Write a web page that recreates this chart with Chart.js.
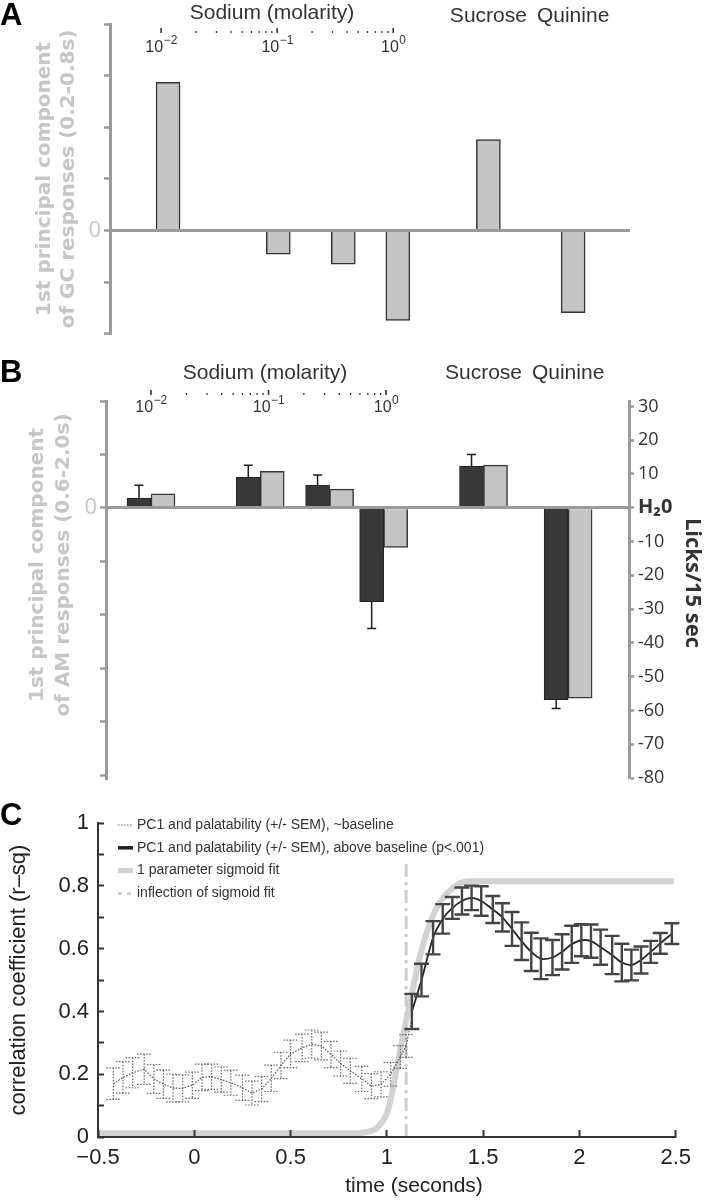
<!DOCTYPE html>
<html>
<head>
<meta charset="utf-8">
<title>PC1 and palatability</title>
<script src="https://cdn.jsdelivr.net/npm/chart.js@4.4.1/dist/chart.umd.min.js"></script>
<style>
  html, body { margin:0; padding:0; background:#ffffff; }
  #wrap { position:relative; width:706px; height:1200px; overflow:hidden; background:#fff; }
  #wrap canvas { position:absolute; left:0; }
</style>
</head>
<body>
<div id="wrap">
  <canvas id="panelA" width="706" height="350" style="top:0px"></canvas>
  <canvas id="panelB" width="706" height="445" style="top:350px"></canvas>
  <canvas id="panelC" width="706" height="405" style="top:795px"></canvas>
</div>
<script>
// ---------------- DATA ----------------
const tastes = ['0.01 M NaCl', '0.1 M NaCl', '0.3 M NaCl', '1.0 M NaCl', 'Sucrose', 'Quinine'];
// position of each taste on the log10-molarity axis (sucrose / quinine placed to the right)
const slotA = [-1.94, -0.99, -0.43, 0.04, 0.82, 1.55];
const pc1GC = [2.87, -0.46, -0.65, -1.74, 1.76, -1.59];

const slotB = [-2.0, -1.07, -0.48, -0.02, 0.83, 1.55];
const licksPer15s = [2.9, 9.1, 6.7, -27.8, 12.3, -56.8];
const licksSEM = [3.8, 3.5, 3.0, 7.9, 3.5, 2.6];
const pc1AM = [0.265, 0.685, 0.35, -0.74, 0.80, -3.56];

const molarityDecades = [-2, -1, 0];

const tBase = [-0.42, -0.37, -0.32, -0.26, -0.21, -0.16, -0.11, -0.06, -0.01, 0.04, 0.09, 0.14, 0.19, 0.25, 0.30, 0.35,
               0.40, 0.45, 0.50, 0.56, 0.61, 0.66, 0.71, 0.76, 0.81, 0.87, 0.92, 0.97, 1.02, 1.07, 1.10, 1.13];
const rBase = [0.17, 0.19, 0.205, 0.216, 0.185, 0.168, 0.156, 0.155, 0.165, 0.19, 0.192, 0.183, 0.173, 0.157, 0.14, 0.153,
               0.187, 0.228, 0.265, 0.284, 0.296, 0.29, 0.263, 0.234, 0.211, 0.185, 0.162, 0.168, 0.2, 0.255, 0.29, 0.38];
const semBase = [0.05, 0.05, 0.048, 0.048, 0.046, 0.045, 0.044, 0.043, 0.042, 0.042, 0.04, 0.04, 0.04, 0.04, 0.038, 0.04,
                 0.042, 0.042, 0.044, 0.044, 0.045, 0.044, 0.042, 0.04, 0.04, 0.04, 0.04, 0.04, 0.038, 0.036, 0.036, 0];

const tAbove = [1.13, 1.18, 1.24, 1.29, 1.34, 1.39, 1.44, 1.49, 1.55, 1.60, 1.65, 1.70, 1.75, 1.80, 1.86, 1.91, 1.96,
                2.01, 2.06, 2.11, 2.17, 2.22, 2.27, 2.32, 2.37, 2.42, 2.48];
const rAbove = [0.40, 0.50, 0.635, 0.695, 0.73, 0.752, 0.762, 0.752, 0.725, 0.70, 0.663, 0.624, 0.59, 0.568, 0.572, 0.59,
                0.614, 0.627, 0.624, 0.605, 0.58, 0.556, 0.548, 0.564, 0.59, 0.617, 0.648];
const semAbove = [0.056, 0.052, 0.053, 0.047, 0.035, 0.043, 0.039, 0.047, 0.043, 0.045, 0.054, 0.06, 0.061, 0.065, 0.056,
                  0.056, 0.059, 0.051, 0.053, 0.056, 0.061, 0.06, 0.049, 0.043, 0.035, 0.033, 0.033];

const tFit = [-0.5, 0.85, 0.90, 0.95, 1.00, 1.02, 1.04, 1.07, 1.10, 1.124, 1.175, 1.25, 1.35, 1.43, 2.49];
const rFit = [0.012, 0.012, 0.016, 0.03, 0.075, 0.12, 0.18, 0.28, 0.37, 0.44, 0.584, 0.72, 0.797, 0.815, 0.815];

const tInflection = 1.1;
const rInflectionSpan = [0, 0.87];

const timeTicks = [-0.5, 0, 0.5, 1, 1.5, 2, 2.5];

const legendLabels = [
  'PC1 and palatability (+/- SEM), above baseline (p<.001)',
  'PC1 and palatability (+/- SEM), ~baseline',
  'inflection of sigmoid fit',
  '1 parameter sigmoid fit'
];
const legendOrder = [1, 0, 3, 2];

// ---------------- STYLE ----------------
Chart.defaults.font.family = "'Liberation Sans', Arial, sans-serif";
Chart.defaults.color = '#222';
Chart.defaults.animation = false;

const AXIS_GREY = '#9a9a9a';
const TITLE_GREY = '#c6c6c6';
const CLEAR = 'rgba(0,0,0,0)';
const zeroOnly = c => (c.tick && c.tick.value === 0) ? AXIS_GREY : CLEAR;

// ---------------- PLUGINS ----------------
function textPlugin(items) {
  return {
    id: 'panelText',
    afterDraw(chart) {
      const ctx = chart.ctx;
      items.forEach(it => {
        ctx.save();
        const x = (it.slot !== undefined) ? chart.scales.x.getPixelForValue(it.slot) : it.x;
        ctx.translate(x, it.y);
        if (it.rotate) ctx.rotate(it.rotate * Math.PI / 180);
        ctx.font = it.font;
        ctx.fillStyle = it.color || '#222';
        ctx.textAlign = it.align || 'center';
        ctx.textBaseline = 'middle';
        const lines = Array.isArray(it.text) ? it.text : [it.text];
        lines.forEach((ln, k) => ctx.fillText(ln, 0, k * (it.lineHeight || 0)));
        ctx.restore();
      });
    }
  };
}

function logAxisPlugin(bottomY, labelY) {
  return {
    id: 'logAxis',
    afterDraw(chart) {
      const ctx = chart.ctx, xs = chart.scales.x;
      ctx.save();
      ctx.strokeStyle = '#333'; ctx.fillStyle = '#333';
      molarityDecades.forEach((e, di) => {
        const px = xs.getPixelForValue(e);
        ctx.lineWidth = 1.6;
        ctx.beginPath(); ctx.moveTo(px, bottomY - 5); ctx.lineTo(px, bottomY); ctx.stroke();
        if (di < molarityDecades.length - 1) {
          for (let m = 2; m <= 9; m++) {
            const mx = xs.getPixelForValue(e + Math.log10(m));
            ctx.lineWidth = 1.3;
            ctx.beginPath(); ctx.moveTo(mx, bottomY - 2); ctx.lineTo(mx, bottomY); ctx.stroke();
          }
        }
        const base = '10', sup = e === 0 ? '0' : '\u2212' + Math.abs(e);
        ctx.font = "16px 'Liberation Sans'"; const wb = ctx.measureText(base).width;
        ctx.font = "12px 'Liberation Sans'"; const ws = ctx.measureText(sup).width;
        const x0 = px - (wb + ws) / 2;
        ctx.textAlign = 'left'; ctx.textBaseline = 'middle';
        ctx.font = "16px 'Liberation Sans'"; ctx.fillText(base, x0, labelY);
        ctx.font = "12px 'Liberation Sans'"; ctx.fillText(sup, x0 + wb + 0.5, labelY - 7);
      });
      ctx.restore();
    }
  };
}

function barErrorPlugin(dsIndex, errs) {
  return {
    id: 'barErrors',
    afterDatasetsDraw(chart) {
      const meta = chart.getDatasetMeta(dsIndex);
      const ys = chart.scales[meta.yAxisID];
      const vals = chart.data.datasets[dsIndex].data;
      const ctx = chart.ctx;
      ctx.save(); ctx.strokeStyle = '#1e1e1e'; ctx.lineWidth = 1.5;
      meta.data.forEach((el, i) => {
        const v = vals[i].y; const dir = v >= 0 ? 1 : -1;
        const yEnd = ys.getPixelForValue(v + dir * errs[i]);
        ctx.beginPath();
        ctx.moveTo(el.x, el.y); ctx.lineTo(el.x, yEnd);
        ctx.moveTo(el.x - 4.5, yEnd); ctx.lineTo(el.x + 4.5, yEnd);
        ctx.stroke();
      });
      ctx.restore();
    }
  };
}

const lineErrorPlugin = {
  id: 'lineErrors',
  afterDatasetsDraw(chart) {
    const ctx = chart.ctx, ys = chart.scales.y;
    chart.data.datasets.forEach((ds, di) => {
      if (!ds.errors) return;
      const meta = chart.getDatasetMeta(di); const st = ds.errStyle;
      ctx.save(); ctx.strokeStyle = st.color; ctx.lineWidth = st.width; ctx.setLineDash(st.dash);
      meta.data.forEach((pt, i) => {
        const e = ds.errors[i]; if (!e) return;
        const v = ds.data[i].y;
        const yHi = ys.getPixelForValue(v + e), yLo = ys.getPixelForValue(v - e);
        ctx.beginPath();
        ctx.moveTo(pt.x, yHi); ctx.lineTo(pt.x, yLo);
        ctx.moveTo(pt.x - st.cap / 2, yHi); ctx.lineTo(pt.x + st.cap / 2, yHi);
        ctx.moveTo(pt.x - st.cap / 2, yLo); ctx.lineTo(pt.x + st.cap / 2, yLo);
        ctx.stroke();
      });
      ctx.restore();
    });
  }
};

const legendSamples = [
  { w: 1.2, dash: [1.5, 1.5], color: '#666' },
  { w: 3.5, dash: [], color: '#222' },
  { w: 5, dash: [], color: '#d2d2d2' },
  { w: 3, dash: [4, 5], color: '#cccccc' }
];
const legendPlugin = {
  id: 'cLegend',
  afterDraw(chart) {
    const ctx = chart.ctx;
    legendOrder.forEach((di, k) => {
      const y = 30 + k * 22.8;
      const s = legendSamples[k];
      ctx.save();
      ctx.strokeStyle = s.color; ctx.lineWidth = s.w; ctx.setLineDash(s.dash);
      ctx.beginPath(); ctx.moveTo(118, y); ctx.lineTo(133, y); ctx.stroke();
      ctx.setLineDash([]);
      ctx.font = "14px 'Liberation Sans'"; ctx.fillStyle = '#333';
      ctx.textAlign = 'left'; ctx.textBaseline = 'middle';
      ctx.fillText(chart.data.datasets[di].label, 137, y);
      ctx.restore();
    });
  }
};

// ---------------- PANEL A ----------------
new Chart(document.getElementById('panelA'), {
  type: 'bar',
  data: {
    datasets: [{
      label: '1st principal component of GC responses (0.2-0.8s)',
      data: tastes.map((t, i) => ({ x: slotA[i], y: pc1GC[i] })),
      backgroundColor: '#c4c4c4', borderColor: '#333333', borderWidth: 1.5, barThickness: 24
    }]
  },
  options: {
    responsive: false, animation: false, events: [],
    layout: { padding: { left: 0, right: 76, top: 24, bottom: 13 } },
    plugins: { legend: { display: false }, tooltip: { enabled: false } },
    scales: {
      x: { type: 'linear', min: -2.44, max: 2.04, offset: false, display: false },
      y: {
        min: -2, max: 4,
        ticks: { stepSize: 1, autoSkip: false, callback: v => v === 0 ? '0' : '', color: TITLE_GREY,
                 font: { family: "'Open Sans'", size: 22 }, padding: 3 },
        grid: { z: 1, drawOnChartArea: true, color: zeroOnly, lineWidth: 3, tickColor: AXIS_GREY, tickWidth: 2.5, tickLength: 6 },
        border: { z: 1, color: AXIS_GREY, width: 3 },
        title: { display: true, text: ['1st principal component', 'of GC responses (0.2-0.8s)'], color: TITLE_GREY,
                 font: { family: "'DejaVu Sans'", size: 20, weight: 'bold', lineHeight: 1.2 }, padding: { top: 33, bottom: 0 } },
        afterFit: s => { s.width = 110; }
      }
    }
  },
  plugins: [
    logAxisPlugin(33, 48),
    textPlugin([
      { text: 'A', x: 0, y: 16, align: 'left', font: "bold 31px 'Liberation Sans'", color: '#000' },
      { text: 'Sodium (molarity)', x: 272, y: 13, font: "21px 'Liberation Sans'", color: '#333' },
      { text: 'Sucrose', slot: slotA[4], y: 16, font: "21px 'Liberation Sans'", color: '#333' },
      { text: 'Quinine', slot: slotA[5], y: 16, font: "21px 'Liberation Sans'", color: '#333' }
    ])
  ]
});

// ---------------- PANEL B ----------------
new Chart(document.getElementById('panelB'), {
  type: 'bar',
  data: {
    datasets: [
      {
        label: 'Licks/15 sec',
        data: tastes.map((t, i) => ({ x: slotB[i], y: licksPer15s[i] })),
        yAxisID: 'y2', backgroundColor: '#383838', borderColor: '#222', borderWidth: 1, barThickness: 24
      },
      {
        label: '1st principal component of AM responses (0.6-2.0s)',
        data: tastes.map((t, i) => ({ x: slotB[i], y: pc1AM[i] })),
        yAxisID: 'y', backgroundColor: '#c4c4c4', borderColor: '#3a3a3a', borderWidth: 1.5, barThickness: 24
      }
    ]
  },
  options: {
    responsive: false, animation: false, events: [],
    layout: { padding: { left: 0, right: 0, top: 51, bottom: 12 } },
    plugins: { legend: { display: false }, tooltip: { enabled: false } },
    scales: {
      x: { type: 'linear', min: -2.383, max: 2.068, offset: false, display: false },
      y: {
        position: 'left', min: -5.07, max: 2,
        ticks: { stepSize: 1, includeBounds: false, autoSkip: false, callback: v => v === 0 ? '0' : '', color: TITLE_GREY,
                 font: { family: "'Open Sans'", size: 22 }, padding: 3 },
        grid: { z: 1, drawOnChartArea: true, color: zeroOnly, lineWidth: 3, tickColor: AXIS_GREY, tickWidth: 2.5, tickLength: 6 },
        border: { z: 1, color: AXIS_GREY, width: 3 },
        afterFit: s => { s.width = 106; }
      },
      y2: {
        position: 'right', min: -80.2, max: 31.6,
        ticks: {
          stepSize: 10, includeBounds: false, autoSkip: false, maxTicksLimit: 20, padding: 4, color: '#333',
          callback: v => v === 0 ? 'H\u20820' : String(v),
          font: c => (c.tick && c.tick.value === 0)
            ? { family: "'Open Sans'", size: 20, weight: 'bold' }
            : { family: "'Open Sans'", size: 18 }
        },
        grid: { drawOnChartArea: false, tickColor: AXIS_GREY, tickWidth: 2.5, tickLength: 5 },
        border: { color: AXIS_GREY, width: 3 },
        afterFit: s => { s.width = 77; }
      }
    }
  },
  plugins: [
    barErrorPlugin(0, licksSEM),
    logAxisPlugin(45, 58),
    textPlugin([
      { text: 'B', x: 0, y: 23, align: 'left', font: "bold 31px 'Liberation Sans'", color: '#000' },
      { text: 'Sodium (molarity)', x: 265, y: 23, font: "21px 'Liberation Sans'", color: '#333' },
      { text: 'Sucrose', slot: slotB[4], y: 23, font: "21px 'Liberation Sans'", color: '#333' },
      { text: 'Quinine', slot: slotB[5], y: 23, font: "21px 'Liberation Sans'", color: '#333' },
      { text: ['1st principal component', 'of AM responses (0.6-2.0s)'], x: 38, y: 215, rotate: -90, lineHeight: 26,
        font: "bold 20px 'DejaVu Sans'", color: TITLE_GREY },
      { text: 'Licks/15 sec', x: 692, y: 233, rotate: 90, font: "bold 22px 'Open Sans'", color: '#333' }
    ])
  ]
});

// ---------------- PANEL C ----------------
new Chart(document.getElementById('panelC'), {
  type: 'line',
  data: {
    datasets: [
      {
        label: legendLabels[0],
        data: tAbove.map((t, i) => ({ x: t, y: rAbove[i] })),
        borderColor: '#262626', borderWidth: 1.8, pointRadius: 0, tension: 0.3,
        errors: semAbove, errStyle: { color: '#444', width: 2.4, cap: 15, dash: [] }
      },
      {
        label: legendLabels[1],
        data: tBase.map((t, i) => ({ x: t, y: rBase[i] })),
        borderColor: '#555', borderWidth: 1.2, borderDash: [1.5, 1.5], pointRadius: 0, tension: 0,
        errors: semBase, errStyle: { color: '#666', width: 1.2, cap: 14, dash: [1.5, 1.5] }
      },
      {
        label: legendLabels[2],
        data: rInflectionSpan.map(r => ({ x: tInflection, y: r })),
        borderColor: '#cccccc', borderWidth: 3, borderDash: [13, 5, 3, 5], pointRadius: 0
      },
      {
        label: legendLabels[3],
        data: tFit.map((t, i) => ({ x: t, y: rFit[i] })),
        borderColor: '#d2d2d2', borderWidth: 6, pointRadius: 0, cubicInterpolationMode: 'monotone'
      }
    ]
  },
  options: {
    responsive: false, animation: false, events: [],
    layout: { padding: { left: 0, right: 26, top: 22, bottom: 0 } },
    plugins: { legend: { display: false }, tooltip: { enabled: false } },
    scales: {
      x: {
        type: 'linear', min: -0.5, max: 2.5,
        afterBuildTicks: s => { s.ticks = timeTicks.map(v => ({ value: v })); },
        ticks: { autoSkip: false, maxRotation: 0, padding: 15, color: '#222', font: { size: 22 },
                 callback: v => v < 0 ? '\u2212' + (-v) : String(v) },
        grid: { z: 1, drawOnChartArea: false, tickColor: '#333', tickWidth: 2, tickLength: -7 },
        border: { z: 1, color: '#333', width: 2 },
        afterFit: s => { s.height = 63; }
      },
      y: {
        min: 0, max: 1,
        ticks: { stepSize: 0.1, autoSkip: false, maxTicksLimit: 20, padding: 15, color: '#222', font: { size: 22 },
                 callback: v => { const k = Math.round(v * 10); return k % 2 === 0 ? (k === 0 ? '0' : k === 10 ? '1' : (k / 10).toFixed(1)) : ''; } },
        grid: { z: 1, drawOnChartArea: false, tickColor: '#333', tickWidth: 2, tickLength: -6 },
        border: { z: 1, color: '#333', width: 2 },
        title: { display: true, text: 'correlation coefficient (r\u2013sq)', color: '#222',
                 font: { size: 22, lineHeight: 1.1 }, padding: { top: 7, bottom: 0 } },
        afterFit: s => { s.width = 98; }
      }
    }
  },
  plugins: [
    lineErrorPlugin,
    legendPlugin,
    textPlugin([
      { text: 'C', x: 0, y: 21, align: 'left', font: "bold 31px 'Liberation Sans'", color: '#000' },
      { text: 'time (seconds)', x: 414, y: 391, font: "21px 'Liberation Sans'", color: '#222' }
    ])
  ]
});
</script>
</body>
</html>
